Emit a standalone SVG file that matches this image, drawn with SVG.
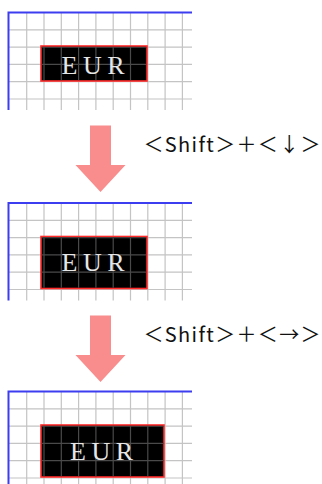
<svg xmlns="http://www.w3.org/2000/svg" xmlns:xlink="http://www.w3.org/1999/xlink" width="322" height="484" viewBox="0 0 322 484">
<style>
.bg{fill:#ffffff}
.grid{fill:none;stroke:#c4c4c4;stroke-width:1.2}
.gridDark{fill:none;stroke:#4a4a4a;stroke-width:1.2}
.axis{fill:none;stroke:#3c3cf0;stroke-width:2}
.sel{fill:#000000;stroke:#ff2a2a;stroke-width:1.6}
.cell{font-family:"Liberation Serif","Times New Roman",serif;font-size:26px;fill:#e6e6e6;letter-spacing:5.5px}
.arrow{fill:#f98c8c;stroke:none}
.key{font-family:"Noto Sans CJK JP","Noto Sans",sans-serif;font-size:20px;fill:#111111}
</style>
<defs>
<path id="gridlines" d="M26.7 12.5V110M44 12.5V110M61.3 12.5V110M78.6 12.5V110M95.9 12.5V110M113.2 12.5V110M130.5 12.5V110M147.8 12.5V110M165.1 12.5V110M182.4 12.5V110M8.5 29.8H192M8.5 47.1H192M8.5 64.4H192M8.5 81.7H192M8.5 99H192"/>
<path id="axes" d="M192 12.5H8.5V110"/>
<clipPath id="c1"><rect x="41.8" y="46.8" width="104.4" height="33.4"/></clipPath>
<clipPath id="c2"><rect x="41.8" y="46.8" width="104.4" height="50.4"/></clipPath>
<clipPath id="c3"><rect x="41.8" y="46.8" width="121.7" height="50.4"/></clipPath>
</defs>
<rect class="bg" x="0" y="0" width="322" height="484"/>

<g id="panel1">
<use xlink:href="#gridlines" class="grid"/>
<use xlink:href="#axes" class="axis"/>
<rect class="sel" x="41" y="46" width="106" height="35"/>
<use xlink:href="#gridlines" class="gridDark" clip-path="url(#c1)"/>
<text class="cell" x="61.5" y="74">EUR</text>
</g>

<g id="panel2" transform="translate(0,190.5)">
<use xlink:href="#gridlines" class="grid"/>
<use xlink:href="#axes" class="axis"/>
<rect class="sel" x="41" y="46" width="106" height="52"/>
<use xlink:href="#gridlines" class="gridDark" clip-path="url(#c2)"/>
<text class="cell" x="61.5" y="80.5">EUR</text>
</g>

<g id="panel3" transform="translate(0,379)">
<use xlink:href="#gridlines" class="grid"/>
<use xlink:href="#axes" class="axis"/>
<rect class="sel" x="41" y="46" width="123" height="52"/>
<use xlink:href="#gridlines" class="gridDark" clip-path="url(#c3)"/>
<text class="cell" x="70.1" y="81">EUR</text>
</g>

<g id="connectors">
<polygon class="arrow" points="90,125.5 111,125.5 111,165 125.5,165 100.5,192 75.5,165 90,165"/>
<polygon class="arrow" points="90,315.5 111,315.5 111,355 125.5,355 100.5,382 75.5,355 90,355"/>
<text class="key" x="143.5" y="152" textLength="177" lengthAdjust="spacing">＜Shift＞＋＜↓＞</text>
<text class="key" x="143.5" y="341.7" textLength="177" lengthAdjust="spacing">＜Shift＞＋＜→＞</text>
</g>
</svg>
